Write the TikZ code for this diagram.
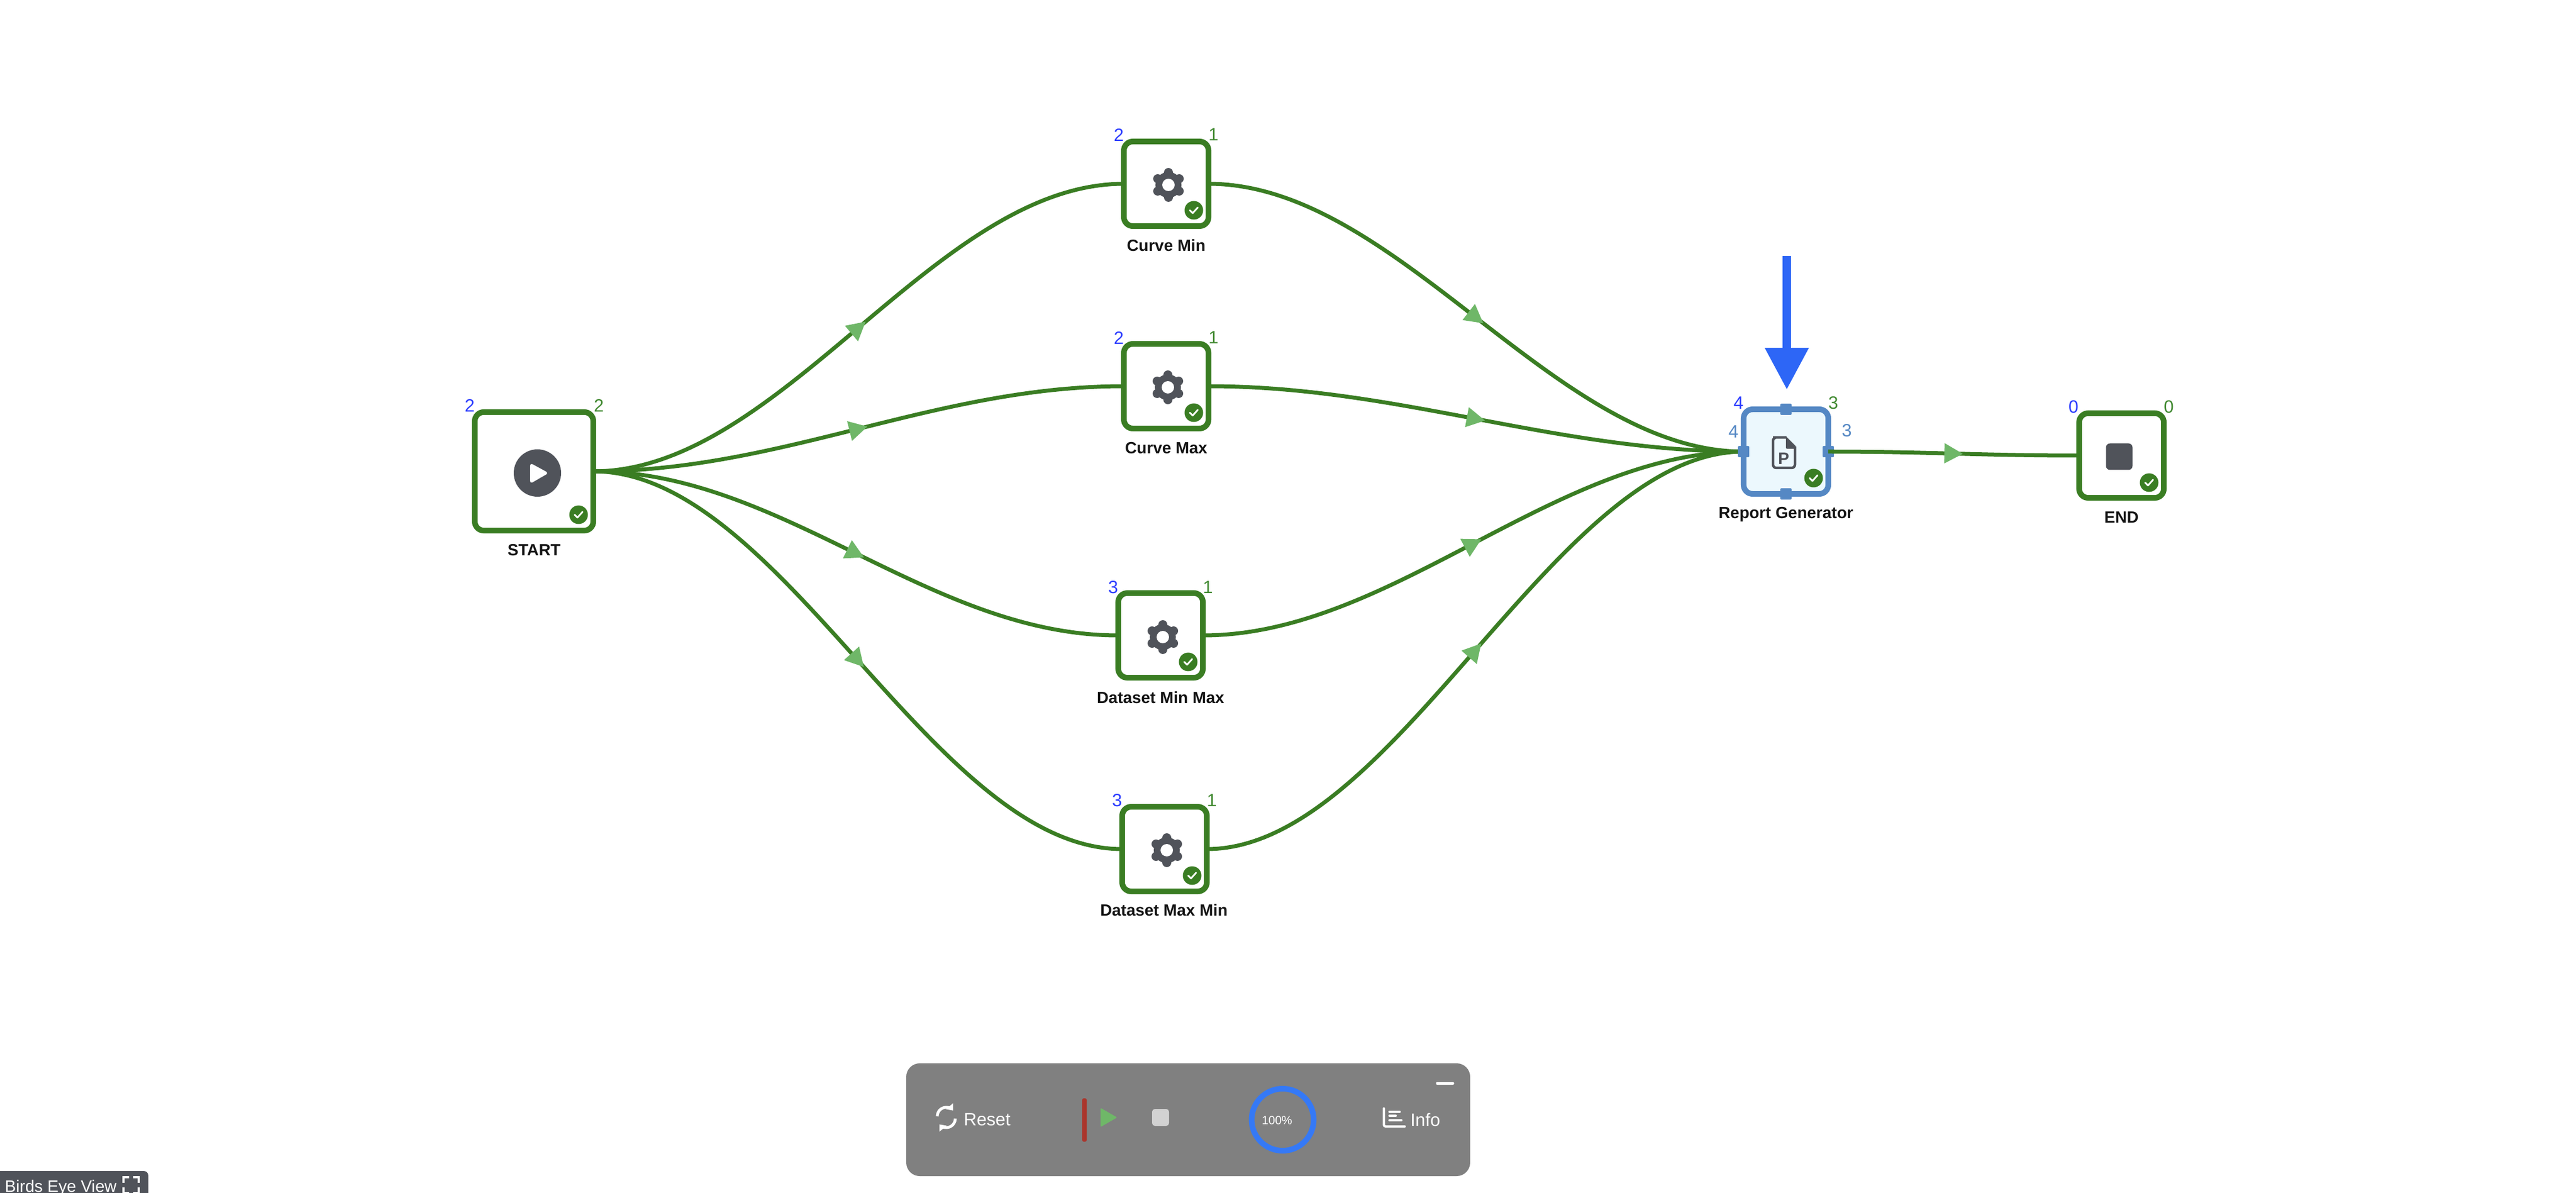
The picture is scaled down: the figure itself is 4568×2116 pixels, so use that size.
\documentclass[tikz,border=0pt]{standalone}
\usepackage{fontspec}
\setmainfont{Liberation Sans}
\usepackage{tikz}
\usetikzlibrary{arrows.meta,decorations.markings}
\definecolor{flowgreen}{RGB}{58,125,35}
\definecolor{midgreen}{RGB}{111,183,104}
\definecolor{numgreen}{RGB}{66,138,50}
\definecolor{numblue}{RGB}{43,60,255}
\definecolor{selblue}{RGB}{85,136,196}
\definecolor{sellight}{RGB}{236,248,253}
\definecolor{icongray}{RGB}{80,83,90}
\definecolor{markblue}{RGB}{45,102,246}
\definecolor{ringblue}{RGB}{53,121,246}
\definecolor{barred}{RGB}{171,53,44}
\tikzstyle{box}=[rectangle, draw=flowgreen, fill=white, line width=.1cm, minimum size=1.5cm, inner sep=0pt, outer sep=0pt, rounded corners=.16cm]
\tikzstyle{bigbox}=[box, minimum size=2.1cm]
\tikzstyle{selbox}=[box, draw=selblue, fill=sellight]
\tikzstyle{handle}=[rectangle, fill=selblue, minimum size=.2cm, inner sep=0pt, rounded corners=.02cm]
\tikzstyle{caption}=[inner sep=0pt, text=black!92, font=\fontsize{8.2}{10}\selectfont\bfseries]
\tikzstyle{count}=[inner sep=0pt, font=\fontsize{9}{10}\selectfont]
\tikzstyle{paneltext}=[inner sep=0pt, text=white, font=\fontsize{9}{10}\selectfont]
\tikzstyle{edge}=[line width=.07cm, color=flowgreen, postaction={decorate}, decoration={markings, mark=at position .5 with {\arrow[xshift=.165cm]{Triangle[color=midgreen, fill=midgreen, length=.33cm, width=.34cm]}}}]
\begin{document}
\begin{tikzpicture}[x=.01cm, y=.01cm, yscale=-1]
	\useasboundingbox (0,0) rectangle (4568,2116);
	% boxes
	\node[bigbox] (start) at (947,836) {};
	\foreach \name/\x/\y in {curvemin/2068/326, curvemax/2068/685, dsminmax/2058/1127, dsmaxmin/2065/1506, stop/3762/808}{
		\node[box] (\name) at (\x,\y) {};
	}
	\node[selbox] (report) at (3167,801) {};
	% captions
	\foreach \name/\x/\y/\txt in {capstart/947/976/START, capcurvemin/2068/435/Curve Min, capcurvemax/2068/795/Curve Max, capdsminmax/2058/1237/Dataset Min Max, capdsmaxmin/2064/1614/Dataset Max Min, capreport/3167/912/Report Generator, capstop/3762/918/END}{
		\node[caption] (\name) at (\x,\y) {\txt};
	}
	% counters
	\foreach \name/\x/\y/\col/\txt in {n1/833/719/numblue/2, n2/1062/719/numgreen/2, n3/1984/239/numblue/2, n4/2152/239/numgreen/1, n5/1984/599/numblue/2, n6/2152/599/numgreen/1, n7/1974/1042/numblue/3, n8/2142/1042/numgreen/1, n9/1981/1420/numblue/3, n10/2149/1420/numgreen/1, n11/3083/715/numblue/4, n12/3251/715/numgreen/3, n13/3074/766/selblue/4, n14/3275/764/selblue/3, n15/3677/722/numblue/0, n16/3846/722/numgreen/0}{
		\node[count, text=\col] (\name) at (\x,\y) {\txt};
	}
	% edges
	\foreach \a/\b in {start/curvemin, start/curvemax, start/dsminmax, start/dsmaxmin}{
		\draw[edge] (\a.east) .. controls +(335,0) and +(-335,0) .. (\b.west);
	}
	\foreach \a/\b in {curvemin/report, curvemax/report, dsminmax/report, dsmaxmin/report}{
		\draw[edge] (\a.east) .. controls +(335,0) and +(-335,0) .. (\b.west);
	}
	\node[handle] (hnorth) at (report.north) {};
	\node[handle] (hsouth) at (report.south) {};
	\node[handle] (hwest) at (report.west) {};
	\node[handle] (heast) at (report.east) {};
	\draw[edge] (report.east) .. controls +(176,0) and +(-176,0) .. (stop.west);
	% icons
	\fill[icongray] (953,839) circle (42);
	\fill[white, rounded corners=.05cm] (940,821) -- (973,839) -- (940,858) -- cycle;
	\foreach \x/\y in {2072/328, 2071/687, 2062/1130, 2069/1508}{
		\fill[icongray] (\x,\y) circle (23);
		\foreach \a in {30,90,150,210,270,330}{
			\fill[icongray] (\x,\y) ++(\a:22) circle (8);
		}
		\fill[white] (\x,\y) circle (11);
	}
	\draw[icongray, line width=.045cm, rounded corners=.06cm] (3168,776) -- (3150,776) -- (3144,776) -- (3144,830) -- (3183,830) -- (3183,792);
	\fill[icongray, rounded corners=.02cm] (3167,774) -- (3185,792) -- (3185,796) -- (3167,796) -- cycle;
	\node[inner sep=0pt, text=icongray, font=\fontsize{8.4}{10}\selectfont\bfseries] (reportp) at (3163,813) {P};
	\fill[icongray, rounded corners=.07cm] (3734.5,786.5) rectangle (3781.5,833.5);
	% check marks
	\foreach \x/\y in {1026/913, 2117/373, 2117/732, 2107/1174, 2114/1553, 3216/848, 3811/856}{
		\fill[flowgreen] (\x,\y) circle (16.5);
		\draw[white, line width=.03cm, line cap=round, line join=round] (\x-7,\y) -- (\x-2,\y+5) -- (\x+7,\y-5);
	}
	% marker
	\coordinate (marktop) at (3168.5,454);
	\coordinate (marktip) at (3168.5,691);
	\draw[markblue, line width=.15cm, -{Triangle[length=.74cm, width=.74cm]}] (marktop) -- (marktip);
	% control panel
	\fill[gray, rounded corners=.24cm] (1607,1886) rectangle (2607,2086);
	\draw[white, line width=.05cm, -{Triangle[length=.1cm, width=.16cm]}] (1662,1980) arc[start angle=180, end angle=320, radius=16];
	\draw[white, line width=.05cm, -{Triangle[length=.1cm, width=.16cm]}] (1694,1984) arc[start angle=0, end angle=140, radius=16];
	\node[paneltext, anchor=center] (resettext) at (1750.5,1986) {Reset};
	\fill[barred, rounded corners=.03cm] (1919,1948) rectangle (1927,2025);
	\fill[midgreen, rounded corners=.02cm] (1951.5,1965) -- (1981,1982) -- (1951.5,1999) -- cycle;
	\fill[gray!35, rounded corners=.05cm] (2043,1967) rectangle (2073,1997);
	\draw[ringblue, line width=.1cm] (2274.5,1986) circle (55);
	\node[paneltext, text=white, font=\fontsize{6}{8}\selectfont] (percent) at (2264.5,1987) {100\%};
	\draw[white, line width=.04cm, line cap=round, rounded corners=.03cm] (2454,1966) -- (2454,1998) -- (2491,1998);
	\foreach \y/\e in {1972/2482, 1979/2475, 1987/2485}{
		\draw[white, line width=.04cm, line cap=round] (2464,\y) -- (\e,\y);
	}
	\node[paneltext] (infotext) at (2527.5,1986) {Info};
	\fill[white, rounded corners=.02cm] (2546.5,1919) rectangle (2578.5,1924);
	% birds eye
	\fill[icongray] (0,2077) -- (255,2077) arc[start angle=270, end angle=360, radius=8] -- (263,2120) -- (0,2120) -- cycle;
	\node[paneltext, anchor=base west, font=\fontsize{8.4}{10}\selectfont] (birds) at (8,2114) {Birds Eye View};
	\foreach \x/\y/\dx/\dy in {219/2088/1/1, 246/2088/-1/1, 219/2116/1/-1, 246/2116/-1/-1}{
		\draw[white, line width=.045cm] (\x+\dx*10,\y) -- (\x,\y) -- (\x,\y+\dy*10);
	}
\end{tikzpicture}
\end{document}
